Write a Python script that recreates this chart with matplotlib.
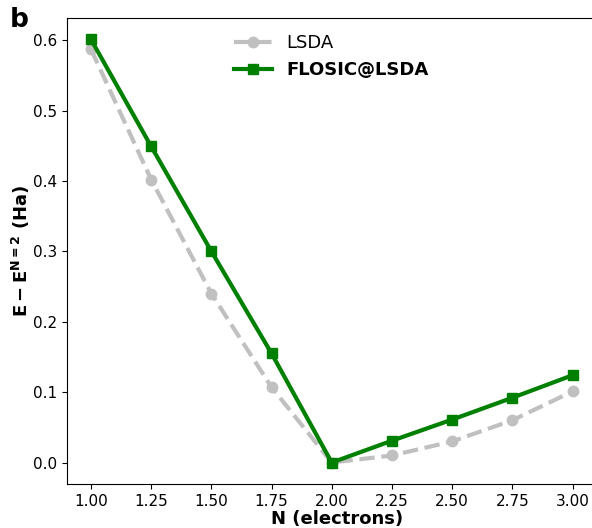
import matplotlib
matplotlib.use("Agg")
import matplotlib.pyplot as plt

n_electrons = [1.00, 1.25, 1.50, 1.75, 2.00, 2.25, 2.50, 2.75, 3.00]
lsda = [0.587, 0.402, 0.240, 0.107, 0.000, 0.010, 0.030, 0.060, 0.101]
flosic = [0.601, 0.449, 0.300, 0.155, 0.000, 0.031, 0.061, 0.092, 0.124]
x_ticks = [1.00, 1.25, 1.50, 1.75, 2.00, 2.25, 2.50, 2.75, 3.00]

fig = plt.figure(figsize=(5.92, 5.28), dpi=100)
# axes: 1.00 -> x=91px, 3.00 -> x=572.5px ; 240.75 px per unit
x_lo, x_hi = 0.9, 3.14
left_px = 91 - (1.0 - x_lo) * 240.75
right_px = 572.5 + (x_hi - 3.0) * 240.75
ax = fig.add_axes([left_px / 592, 44 / 528, (right_px - left_px) / 592, 466 / 528])

ax.plot(n_electrons, lsda, color="#c0c0c0", linestyle="--", linewidth=3,
        marker="o", markersize=7.5, label="LSDA")
ax.plot(n_electrons, flosic, color="green", linestyle="-", linewidth=3,
        marker="s", markersize=7.5, label="FLOSIC@LSDA")

ax.set_xlim(x_lo, x_hi)
ax.set_ylim(-0.0305, 0.6315)
ax.set_xticks(x_ticks)
ax.set_xticklabels([f"{v:.2f}" for v in x_ticks])
ax.tick_params(labelsize=11)

ax.set_xlabel("N (electrons)", fontsize=13, fontweight="bold", labelpad=1)
ax.set_ylabel(r"$\mathbf{E - E^{N=2}}$ (Ha)", fontsize=13, fontweight="bold",
              labelpad=1)

leg = ax.legend(loc="upper center", frameon=False, fontsize=13,
                bbox_to_anchor=(0.49, 1.0), handlelength=2.1)
for txt in leg.get_texts():
    if txt.get_text() == "FLOSIC@LSDA":
        txt.set_fontweight("bold")

fig.text(0.017, 0.962, "b", fontsize=19, fontweight="bold", va="center")

fig.savefig("out.png", dpi=100)
